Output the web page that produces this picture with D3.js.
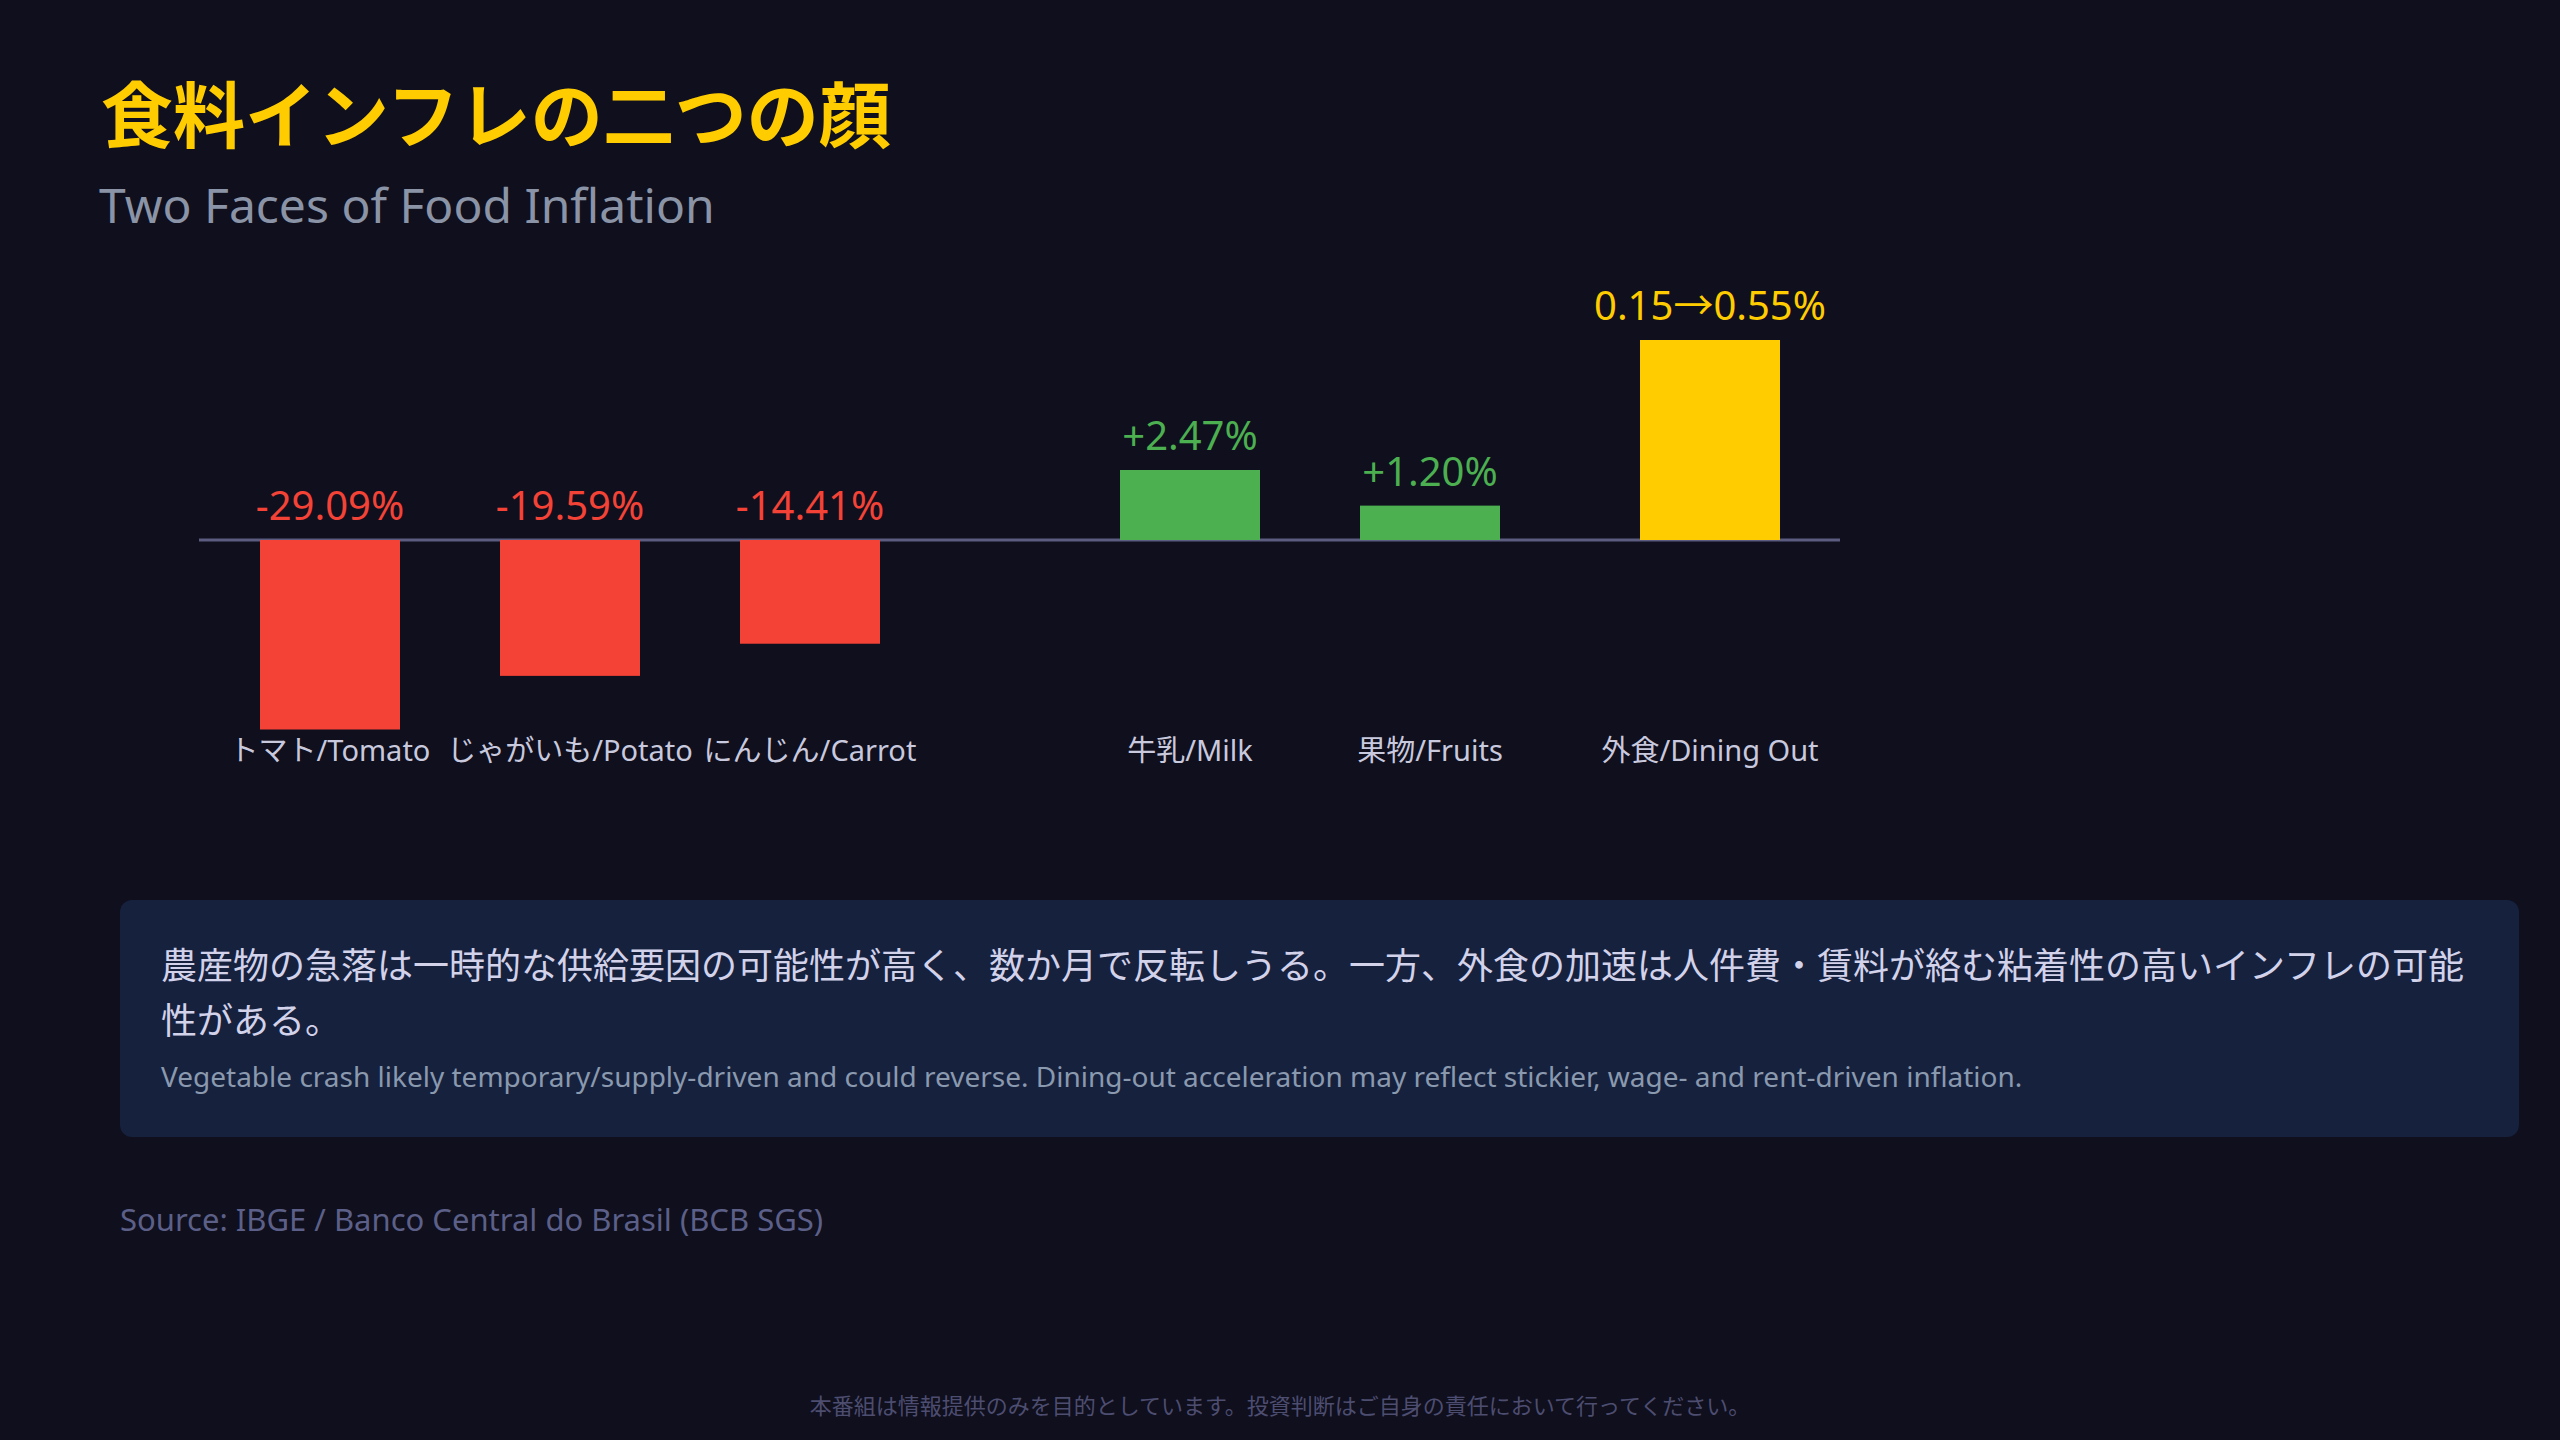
<!DOCTYPE html>
<html lang="ja">
<head>
<meta charset="utf-8">
<title>食料インフレの二つの顔</title>
<script src="https://cdn.jsdelivr.net/npm/d3@7"></script>
<style>
  html, body { margin: 0; padding: 0; background: #0f0f1e; }
  svg { display: block; font-family: "Noto Sans", "Noto Sans CJK JP", sans-serif; }
</style>
</head>
<body>
<div id="chart"></div>
<script>
// --- data ---
const categories = ["トマト/Tomato", "じゃがいも/Potato", "にんじん/Carrot", "牛乳/Milk", "果物/Fruits", "外食/Dining Out"];
const groups = ["falling", "falling", "falling", "rising", "rising", "dining"];
// bar magnitudes (dining bar has no printed value)
const barValues = [-29.09, -19.59, -14.41, 2.47, 1.20, 7.35];
const valueLabels = ["-29.09%", "-19.59%", "-14.41%", "+2.47%", "+1.20%", "0.15→0.55%"];

const title = "食料インフレの二つの顔";
const subtitle = "Two Faces of Food Inflation";
const noteJa = "農産物の急落は一時的な供給要因の可能性が高く、数か月で反転しうる。一方、外食の加速は人件費・賃料が絡む粘着性の高いインフレの可能性がある。";
const noteEn = "Vegetable crash likely temporary/supply-driven and could reverse. Dining-out acceleration may reflect stickier, wage- and rent-driven inflation.";
const source = "Source: IBGE / Banco Central do Brasil (BCB SGS)";
const disclaimer = "本番組は情報提供のみを目的としています。投資判断はご自身の責任において行ってください。";

const colors = {falling: "#f44336", rising: "#4caf50", dining: "#ffcc00"};
const groupShift = {falling: 0, rising: 140, dining: 180};

const width = 2560, height = 1440;

const svg = d3.select("#chart")
    .append("svg")
    .attr("width", width)
    .attr("height", height);

svg.append("rect")
    .attr("width", width)
    .attr("height", height)
    .attr("fill", "#0f0f1e");

// Titles
svg.append("text")
    .attr("x", 101)
    .attr("y", 142)
    .attr("font-family", "'Noto Sans CJK JP', sans-serif")
    .attr("font-size", "72px")
    .attr("font-weight", 700)
    .attr("fill", "#ffcc00")
    .text(title);

svg.append("text")
    .attr("x", 99)
    .attr("y", 223)
    .attr("font-size", "48px")
    .attr("fill", "#8a94a6")
    .text(subtitle);

// Chart
const data = categories.map((c, i) => ({
    name: c, group: groups[i], value: barValues[i], label: valueLabels[i]
}));

const x = d3.scaleBand()
    .domain(categories)
    .range([210, 210 + 6 * 240])
    .paddingInner(100 / 240)
    .paddingOuter(50 / 240);

const barX = d => x(d.name) + groupShift[d.group];

const y = d3.scaleSymlog()
    .constant(56)
    .domain([d3.min(barValues), 0, d3.max(barValues)])
    .range([729.5, 540, 340]);

const chart = svg.append("g");

chart.append("line")
    .attr("x1", x(categories[0]) - 61)
    .attr("x2", barX(data[data.length - 1]) + x.bandwidth() + 60)
    .attr("y1", y(0))
    .attr("y2", y(0))
    .attr("stroke", "#5c5c80")
    .attr("stroke-width", 3);

chart.selectAll("rect.bar")
    .data(data)
    .enter()
    .append("rect")
    .attr("class", "bar")
    .attr("x", barX)
    .attr("y", d => Math.min(y(d.value), y(0)))
    .attr("width", x.bandwidth())
    .attr("height", d => Math.abs(y(d.value) - y(0)))
    .attr("fill", d => colors[d.group]);

chart.selectAll("text.value")
    .data(data)
    .enter()
    .append("text")
    .attr("class", "value")
    .attr("x", d => barX(d) + x.bandwidth() / 2)
    .attr("y", d => Math.min(y(d.value), y(0)) - 20)
    .attr("text-anchor", "middle")
    .attr("font-size", "40px")
    .attr("fill", d => colors[d.group])
    .text(d => d.label);

chart.selectAll("text.cat")
    .data(data)
    .enter()
    .append("text")
    .attr("class", "cat")
    .attr("x", d => barX(d) + x.bandwidth() / 2)
    .attr("y", 761)
    .attr("text-anchor", "middle")
    .attr("font-size", "29px")
    .attr("fill", "#c9c9de")
    .text(d => d.name);

// Note box
const box = {x: 120, y: 900, w: 2399, h: 237, pad: 41};

svg.append("rect")
    .attr("x", box.x)
    .attr("y", box.y)
    .attr("width", box.w)
    .attr("height", box.h)
    .attr("rx", 12)
    .attr("fill", "#16213e");

// wrap Japanese text character by character
const noteText = svg.append("text")
    .attr("x", box.x + box.pad)
    .attr("font-family", "'Noto Sans CJK JP', sans-serif")
    .attr("font-size", "36px")
    .attr("fill", "#d2d2ea");

const maxW = box.w - box.pad * 2;
let lines = [], current = "";
const probe = noteText.append("tspan");
for (const ch of noteJa) {
    probe.text(current + ch);
    if (probe.node().getComputedTextLength() > maxW && current) {
        lines.push(current);
        current = ch;
    } else {
        current += ch;
    }
}
lines.push(current);
probe.remove();

noteText.selectAll("tspan")
    .data(lines)
    .enter()
    .append("tspan")
    .attr("x", box.x + box.pad)
    .attr("y", (d, i) => 979 + i * 55)
    .text(d => d);

svg.append("text")
    .attr("x", box.x + box.pad)
    .attr("y", 1087)
    .attr("font-size", "28px")
    .attr("fill", "#8a99ae")
    .text(noteEn);

svg.append("text")
    .attr("x", 120)
    .attr("y", 1231)
    .attr("font-size", "31px")
    .attr("fill", "#5c6088")
    .text(source);

svg.append("text")
    .attr("x", width / 2)
    .attr("y", 1414)
    .attr("text-anchor", "middle")
    .attr("font-family", "'Noto Sans CJK JP', sans-serif")
    .attr("font-size", "22px")
    .attr("fill", "#4d4d70")
    .text(disclaimer);
</script>
</body>
</html>
